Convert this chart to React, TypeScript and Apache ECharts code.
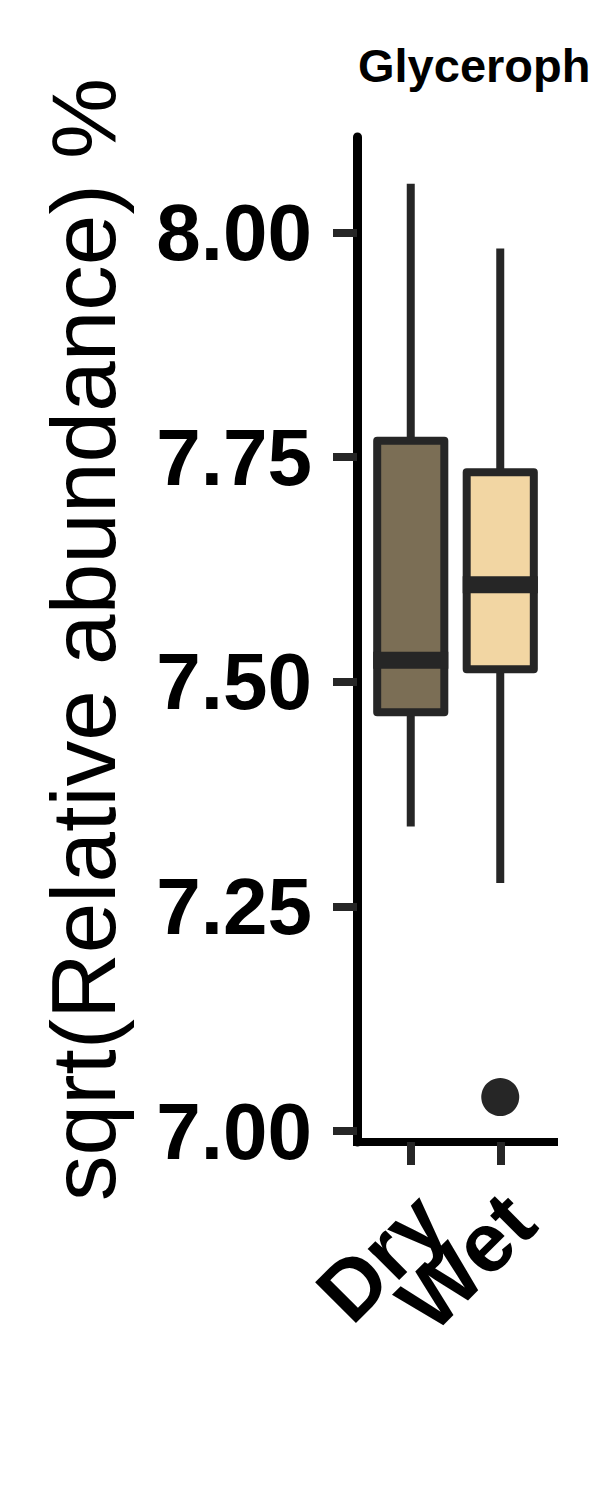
import React, { useEffect, useRef } from "react";
import * as echarts from "echarts";

const categories = ["Dry", "Wet"];
const lowWhisker = [7.339, 7.276];
const q1Values = [7.466, 7.514];
const medianValues = [7.524, 7.608];
const q3Values = [7.768, 7.733];
const highWhisker = [8.054, 7.982];
const outliers: [string, number][] = [["Wet", 7.038]];
const yTicks = [7.0, 7.25, 7.5, 7.75, 8.0];
const panelTitle = "Glyceroph";
const yTitle = "sqrt(Relative abundance) %";

const fills = ["#7b6e55", "#f2d6a3"];
const FONT = "'Liberation Sans', Arial, Helvetica, sans-serif";
const Y_MIN = 6.988;
const Y_MAX = 8.106;

export default function App() {
  const ref = useRef<HTMLDivElement>(null);
  useEffect(() => {
    if (!ref.current) return;
    const chart = echarts.init(ref.current, null, { renderer: "svg" });
    const boxData = categories.map((_, i) => [
      i,
      lowWhisker[i],
      q1Values[i],
      medianValues[i],
      q3Values[i],
      highWhisker[i],
    ]);
    chart.setOption({
      animation: false,
      backgroundColor: "#ffffff",
      textStyle: { fontFamily: FONT },
      grid: [
        { left: 357, right: 46, top: 137, bottom: 358 },
        { left: 366, right: 55, top: 137, bottom: 358 },
      ],
      graphic: [
        {
          type: "text",
          left: 358,
          top: 42,
          style: {
            text: panelTitle,
            fontFamily: FONT,
            fontWeight: "bold",
            fontSize: 47,
            fill: "#000",
          },
        },
      ],
      xAxis: [
        {
          gridIndex: 0,
          type: "value",
          min: 0,
          max: 1,
          splitLine: { show: false },
          axisLine: { show: true, lineStyle: { color: "#000", width: 8, cap: "square" } },
          axisTick: { show: false },
          axisLabel: { show: false },
        },
        {
          gridIndex: 1,
          type: "category",
          data: categories,
          boundaryGap: true,
          axisLine: { show: false },
          axisTick: {
            show: true,
            alignWithLabel: true,
            interval: 0,
            length: 23,
            lineStyle: { color: "#262626", width: 8 },
          },
          axisLabel: {
            interval: 0,
            rotate: 45,
            margin: 26,
            align: "right",
            verticalAlign: "top",
            padding: [0, 14, 0, 0],
            fontSize: 84,
            fontWeight: "bold",
            color: "#000",
            fontFamily: FONT,
          },
        },
      ],
      yAxis: [
        {
          gridIndex: 0,
          type: "value",
          min: Y_MIN,
          max: Y_MAX,
          name: yTitle,
          nameLocation: "middle",
          nameRotate: 90,
          nameGap: 228,
          nameTextStyle: { fontSize: 91, color: "#000", fontFamily: FONT },
          splitLine: { show: false },
          axisLine: { show: true, lineStyle: { color: "#000", width: 9 } },
          axisTick: {
            show: true,
            length: 24,
            lineStyle: { color: "#262626", width: 8 },
            customValues: yTicks,
          },
          axisLabel: {
            customValues: yTicks,
            formatter: (v: number) => v.toFixed(2),
            margin: 45,
            fontSize: 80,
            fontWeight: "bold",
            color: "#000",
            fontFamily: FONT,
          },
        },
        {
          gridIndex: 1,
          type: "value",
          min: Y_MIN,
          max: Y_MAX,
          show: false,
          splitLine: { show: false },
        },
      ],
      series: [
        {
          type: "custom",
          xAxisIndex: 1,
          yAxisIndex: 1,
          data: boxData,
          encode: { x: 0, y: [1, 2, 3, 4, 5] },
          renderItem: (params: any, api: any) => {
            const x = api.value(0);
            const lo = api.coord([x, api.value(1)]);
            const q1 = api.coord([x, api.value(2)]);
            const med = api.coord([x, api.value(3)]);
            const q3 = api.coord([x, api.value(4)]);
            const hi = api.coord([x, api.value(5)]);
            const w = api.size([1, 0])[0] * 0.75;
            const cx = lo[0];
            const stroke = "#262626";
            return {
              type: "group",
              children: [
                {
                  type: "line",
                  shape: { x1: cx, y1: hi[1], x2: cx, y2: q3[1] },
                  style: { stroke, lineWidth: 8 },
                },
                {
                  type: "line",
                  shape: { x1: cx, y1: q1[1], x2: cx, y2: lo[1] },
                  style: { stroke, lineWidth: 8 },
                },
                {
                  type: "rect",
                  shape: { x: cx - w / 2, y: q3[1], width: w, height: q1[1] - q3[1] },
                  style: {
                    fill: fills[params.dataIndex],
                    stroke,
                    lineWidth: 8,
                    lineJoin: "round",
                  },
                },
                {
                  type: "line",
                  shape: { x1: cx - w / 2 - 4, y1: med[1], x2: cx + w / 2 + 4, y2: med[1] },
                  style: { stroke, lineWidth: 17 },
                },
              ],
            };
          },
        },
        {
          type: "scatter",
          xAxisIndex: 1,
          yAxisIndex: 1,
          data: outliers,
          symbol: "circle",
          symbolSize: 38,
          itemStyle: { color: "#262626", opacity: 1 },
        },
      ],
    });
    return () => chart.dispose();
  }, []);
  return (
    <div
      ref={ref}
      style={{ position: "absolute", left: 0, top: 0, width: 600, height: 1500 }}
    />
  );
}
